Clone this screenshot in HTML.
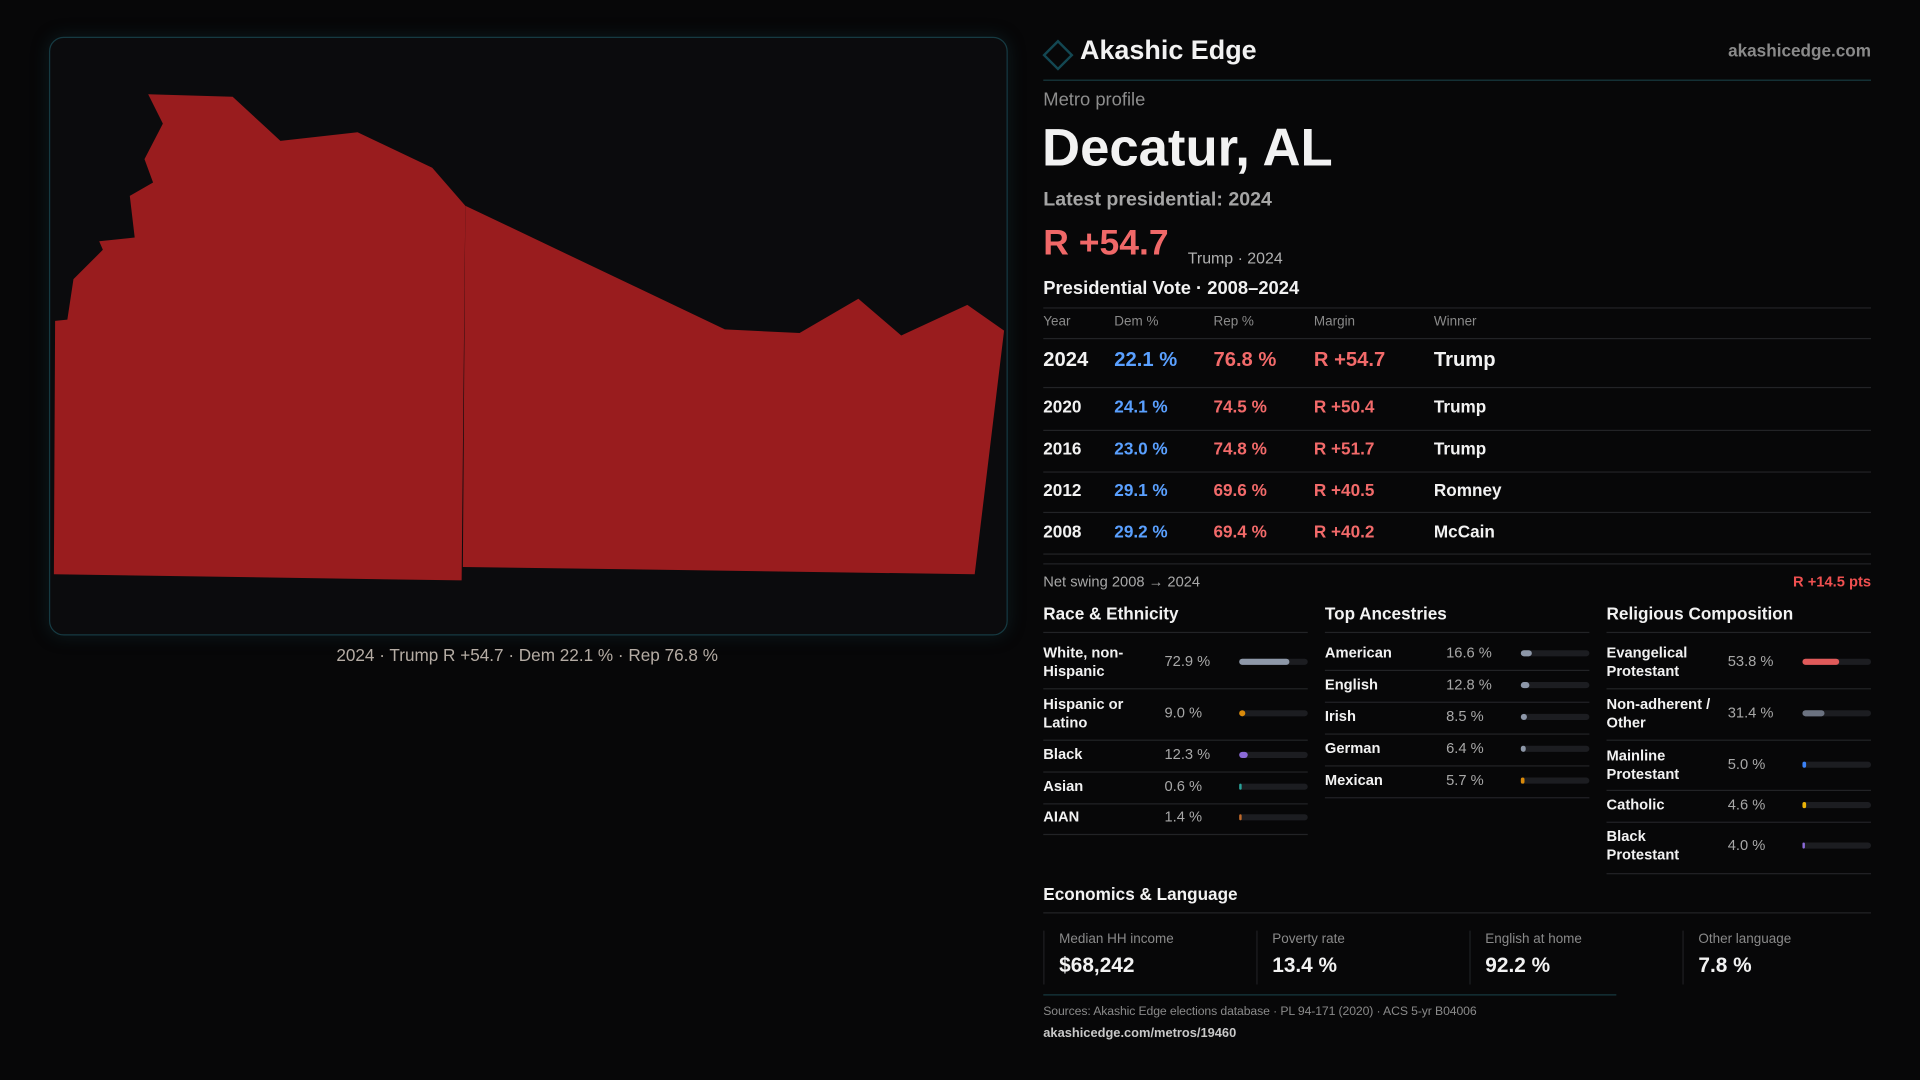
<!DOCTYPE html>
<html><head><meta charset="utf-8">
<style>
html,body{margin:0;padding:0;background:#070708;width:1920px;height:1080px;overflow:hidden}
#root{position:absolute;left:0;top:0;width:1568px;height:882px;transform:scale(1.22449);transform-origin:0 0;font-family:"Liberation Sans",sans-serif;color:#f2f2f2}
.a{position:absolute;white-space:nowrap}
.ln{position:absolute;height:1px;background:#222326}
.mut{color:#8d8d8d}
</style></head><body>
<div id="root">
<div class="a" style="left:40px;top:30px;width:781px;height:487px;border:1px solid #163a42;border-radius:12px;background:#0b0b0d;box-shadow:0 0 14px rgba(20,60,70,.35)"></div>
<svg class="a" style="left:0;top:0" width="1568" height="882">
<polygon fill="#991c1e" points="121,77 190,79 229,115 292,108 353,137 380,168 377,474 44,469 45,262 55,261 60,228 84,204 81,197 110,194 106,160 125,149 118,130 133,101"/>
<polygon fill="#991c1e" points="380,168 592,269 653,272 701,244 736,274 790,249 820,270 796,469 378,463"/>
</svg>
<div class="a" style="left:40px;width:781px;top:527px;text-align:center;font-size:14px;color:#b5aca4">2024 · Trump R +54.7 · Dem 22.1 % · Rep 76.8 %</div>

<div class="a" style="left:855px;top:36px;width:14px;height:14px;border:2px solid #134752;transform:rotate(45deg)"></div>
<div class="a" style="left:882px;top:28px;font-size:22px;font-weight:bold">Akashic Edge</div>
<div class="a mut" style="right:40px;top:33px;font-size:14px;font-weight:bold;color:#8a8a8a">akashicedge.com</div>
<div class="ln" style="left:852px;top:65px;width:676px;background:#173a40"></div>
<div class="a mut" style="left:852px;top:73px;font-size:15px">Metro profile</div>
<div class="a" style="left:851px;top:97px;font-size:43px;font-weight:bold">Decatur, AL</div>
<div class="a" style="left:852px;top:155px;font-size:16px;font-weight:bold;color:#a5a5a5">Latest presidential: 2024</div>
<div class="a" style="left:852px;top:183px;font-size:29px;font-weight:bold;color:#f06868">R +54.7</div>
<div class="a" style="left:970px;top:203px;font-size:13px;color:#b0b0b0">Trump · 2024</div>
<div class="a" style="left:852px;top:227px;font-size:15px;font-weight:bold">Presidential Vote · 2008–2024</div>
<div id="vt"></div>
<div class="ln" style="left:852px;top:460px;width:676px"></div>
<div class="a" style="left:852px;top:468px;font-size:12px;color:#a8a8a8">Net swing 2008 → 2024</div>
<div class="a" style="right:40px;top:468px;font-size:12px;font-weight:bold;color:#f05050">R +14.5 pts</div>
<div id="demo"></div>
<div class="a" style="left:852px;top:722px;font-size:14px;font-weight:bold">Economics &amp; Language</div>
<div class="ln" style="left:852px;top:745px;width:676px"></div>
<div id="econ"></div>
<div class="ln" style="left:852px;top:812px;width:468px;background:#173a40"></div>
<div class="a" style="left:852px;top:821px;font-size:10px;color:#8a8a8a;letter-spacing:-0.1px">Sources: Akashic Edge elections database · PL 94-171 (2020) · ACS 5-yr B04006</div>
<div class="a" style="left:852px;top:838px;font-size:10.5px;font-weight:bold;color:#c8c8c8">akashicedge.com/metros/19460</div>
</div>
<script>
const years=["2024","2020","2016","2012","2008"];
const demPct=[22.1,24.1,23.0,29.1,29.2];
const repPct=[76.8,74.5,74.8,69.6,69.4];
const margins=[54.7,50.4,51.7,40.5,40.2];
const winners=["Trump","Trump","Trump","Romney","McCain"];
const raceLabels=["White, non-<br>Hispanic","Hispanic or<br>Latino","Black","Asian","AIAN"];
const raceVals=[72.9,9.0,12.3,0.6,1.4];
const ancLabels=["American","English","Irish","German","Mexican"];
const ancVals=[16.6,12.8,8.5,6.4,5.7];
const relLabels=["Evangelical<br>Protestant","Non-adherent /<br>Other","Mainline<br>Protestant","Catholic","Black<br>Protestant"];
const relVals=[53.8,31.4,5.0,4.6,4.0];
const econLabels=["Median HH income","Poverty rate","English at home","Other language"];
const econVals=["$68,242","13.4 %","92.2 %","7.8 %"];
function mk(parent,html,css,name,inter){const d=document.createElement('div');d.className='a';d.innerHTML=html;d.style.cssText=css;


parent.appendChild(d);return d;}
function line(p,x,y,w,c){const d=document.createElement('div');d.className='ln';d.style.left=x+'px';d.style.top=y+'px';d.style.width=w+'px';if(c)d.style.background=c;p.appendChild(d);}
const vt=document.getElementById('vt');
line(vt,852,251,676);line(vt,852,276,676);
const hx=[852,910,991,1073,1171],hn=["Year","Dem %","Rep %","Margin","Winner"];
hn.forEach((h,i)=>mk(vt,h,`left:${hx[i]}px;top:257px;font-size:11px;color:#8a8a8a`,'col-header',false));
const rowY=[295,333,367,401,435],lineY=[316,351,385,418,452];
years.forEach((y,i)=>{const big=i==0;const fs=big?16.5:14;const t=rowY[i]-(big?10:9);
mk(vt,y,`left:852px;top:${t}px;font-size:${fs}px;font-weight:bold`,'year-cell',false);
mk(vt,demPct[i].toFixed(1)+' %',`left:910px;top:${t}px;font-size:${fs}px;font-weight:bold;color:#5aa0ff`,'dem-cell',false);
mk(vt,repPct[i].toFixed(1)+' %',`left:991px;top:${t}px;font-size:${fs}px;font-weight:bold;color:#f26a6a`,'rep-cell',false);
mk(vt,'R +'+margins[i].toFixed(1),`left:1073px;top:${t}px;font-size:${fs}px;font-weight:bold;color:#f26a6a`,'margin-cell',false);
mk(vt,winners[i],`left:1171px;top:${t}px;font-size:${fs}px;font-weight:bold`,'winner-cell',false);
line(vt,852,lineY[i],676);});
const demo=document.getElementById('demo');
function section(x,title,labels,vals,colors,ys,lines,name){
mk(demo,title,`left:${x}px;top:493px;font-size:14px;font-weight:bold`,name+'-title',false);
line(demo,x,516,216);
labels.forEach((l,i)=>{const two=l.includes('<br>');
mk(demo,l,`left:${x}px;top:${ys[i]-(two?15:8)}px;font-size:12px;font-weight:bold;line-height:15px`,name+'-label',false);
mk(demo,vals[i].toFixed(1)+' %',`left:${x+99}px;top:${ys[i]-8}px;font-size:12px;color:#a8a8a8`,name+'-value',false);
const tr=mk(demo,'',`left:${x+160}px;top:${ys[i]-3}px;width:56px;height:5px;border-radius:3px;background:#1c1d21`,name+'-bar-track',false);
const f=document.createElement('div');f.style.cssText=`position:absolute;left:0;top:0;height:5px;border-radius:3px;background:${colors[i]};width:${Math.max(2,56*vals[i]/100)}px`;


tr.appendChild(f);
line(demo,x,lines[i],216);});}
section(852,"Race &amp; Ethnicity",raceLabels,raceVals,["#8d97a8","#d98a0b","#8b6ad8","#2aa39a","#c26a2a"],[541,583,617,643,668],[562,604,630,656,681],'race');
section(1082,"Top Ancestries",ancLabels,ancVals,["#8d97a8","#8d97a8","#8d97a8","#8d97a8","#d98a0b"],[534,560,586,612,638],[547,573,599,625,651],'ancestry');
section(1312,"Religious Composition",relLabels,relVals,["#e05a5a","#6b7280","#3b82f6","#eab308","#8b6ad8"],[541,583,625,658,691],[562,604,645,671,713],'religion');
const econ=document.getElementById('econ');
econLabels.forEach((l,i)=>{const x=852+i*174;
mk(econ,'',`left:${x}px;top:760px;width:1px;height:44px;background:#1e1f22`,'econ-divider',false);
mk(econ,l,`left:${x+13}px;top:761px;font-size:11px;color:#8a8a8a`,'econ-label',false);
mk(econ,econVals[i],`left:${x+13}px;top:779px;font-size:17px;font-weight:bold`,'econ-value',false);});
</script>
</body></html>
